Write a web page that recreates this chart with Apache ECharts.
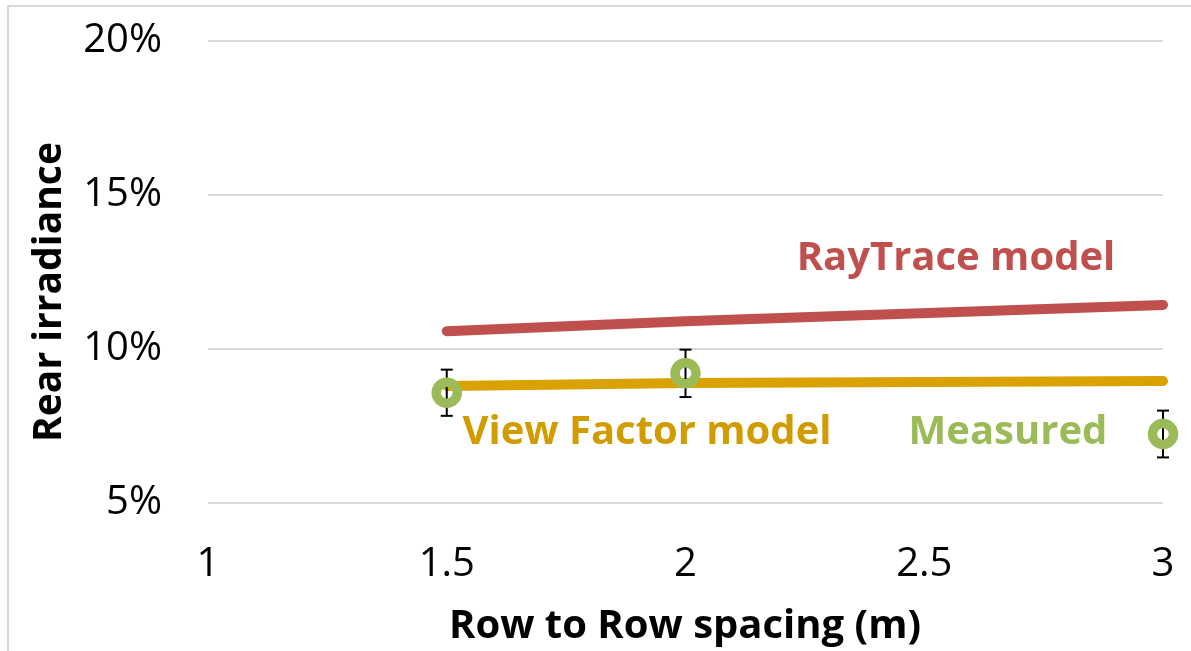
<!DOCTYPE html>
<html><head><meta charset="utf-8">
<script src="https://cdn.jsdelivr.net/npm/echarts@6/dist/echarts.min.js"></script>
<style>html,body{margin:0;padding:0;background:#fff;overflow:hidden}#c{width:1191px;height:651px}</style>
</head><body><div id="c"></div>
<script>
const spacing = [1.5, 2, 3];
const rayTrace = [0.1058, 0.1090, 0.1143];
const viewFactor = [0.0880, 0.0890, 0.0896];
const measured = [0.0858, 0.0921, 0.0724];
const measuredErr = [0.0075, 0.0077, 0.0076];
const xTicks = [1, 1.5, 2, 2.5, 3];
const yTicks = [0.05, 0.10, 0.15, 0.20];

const FONT = '"Open Sans"';
const chart = echarts.init(document.getElementById('c'));
const pair = (xs, ys) => xs.map((x, i) => [x, ys[i]]);
const errData = spacing.map((x, i) => [x, measured[i] - measuredErr[i], measured[i] + measuredErr[i]]);

chart.setOption({
  animation: false,
  backgroundColor: '#fff',
  grid: {left: 208, top: 41, width: 955, height: 462, containLabel: false},
  xAxis: {
    type: 'value', min: xTicks[0], max: xTicks[xTicks.length - 1], interval: 0.5,
    axisLine: {show: false}, axisTick: {show: false}, splitLine: {show: false},
    axisLabel: {fontFamily: FONT, fontSize: 40, color: '#000', margin: 42}
  },
  yAxis: {
    type: 'value', min: yTicks[0], max: yTicks[yTicks.length - 1], interval: 0.05,
    axisLine: {show: false}, axisTick: {show: false},
    splitLine: {lineStyle: {color: '#d9d9d9', width: 2}},
    axisLabel: {fontFamily: FONT, fontSize: 40, color: '#000', margin: 46,
      formatter: v => Math.round(v * 100) + '%'}
  },
  graphic: [
    {type: 'rect', shape: {x: 8, y: 6, width: 1200, height: 700}, style: {fill: 'none', stroke: '#d9d9d9', lineWidth: 2}, silent: true},
    {type: 'text', x: 685, y: 627, style: {text: 'Row to Row spacing (m)', fontFamily: FONT, fontSize: 40, fontWeight: 'bold', fill: '#000', align: 'center', verticalAlign: 'middle'}},
    {type: 'text', x: 50, y: 292, rotation: Math.PI / 2, style: {text: 'Rear irradiance', fontFamily: FONT, fontSize: 39, fontWeight: 'bold', fill: '#000', align: 'center', verticalAlign: 'middle'}},
    {type: 'text', x: 956, y: 259, style: {text: 'RayTrace model', fontFamily: FONT, fontSize: 40, fontWeight: 'bold', fill: '#C0504D', align: 'center', verticalAlign: 'middle'}},
    {type: 'text', x: 647, y: 433, style: {text: 'View Factor model', fontFamily: FONT, fontSize: 40, fontWeight: 'bold', fill: '#D09C00', align: 'center', verticalAlign: 'middle'}},
    {type: 'text', x: 1008, y: 433, style: {text: 'Measured', fontFamily: FONT, fontSize: 40, fontWeight: 'bold', fill: '#9BBB59', align: 'center', verticalAlign: 'middle'}}
  ],
  series: [
    {type: 'line', data: pair(spacing, rayTrace), symbol: 'none',
      lineStyle: {color: '#C0504D', width: 10, cap: 'round'}, z: 2},
    {type: 'line', data: pair(spacing, viewFactor), symbol: 'none',
      lineStyle: {color: '#DAA200', width: 10, cap: 'round'}, z: 2},
    {type: 'custom', data: errData, z: 3,
      renderItem: (params, api) => {
        const x = api.value(0);
        const lo = api.coord([x, api.value(1)]);
        const hi = api.coord([x, api.value(2)]);
        const hw = 6;
        const st = {stroke: '#000', lineWidth: 2};
        return {type: 'group', children: [
          {type: 'line', shape: {x1: lo[0], y1: lo[1], x2: hi[0], y2: hi[1]}, style: st},
          {type: 'line', shape: {x1: lo[0] - hw, y1: lo[1], x2: lo[0] + hw, y2: lo[1]}, style: st},
          {type: 'line', shape: {x1: hi[0] - hw, y1: hi[1], x2: hi[0] + hw, y2: hi[1]}, style: st}
        ]};
      }},
    {type: 'scatter', data: pair(spacing, measured), symbol: 'circle', symbolSize: 21, z: 4,
      itemStyle: {color: 'rgba(255,255,255,0)', borderColor: '#9BBB59', borderWidth: 9.5, opacity: 1}}
  ]
});
</script></body></html>
